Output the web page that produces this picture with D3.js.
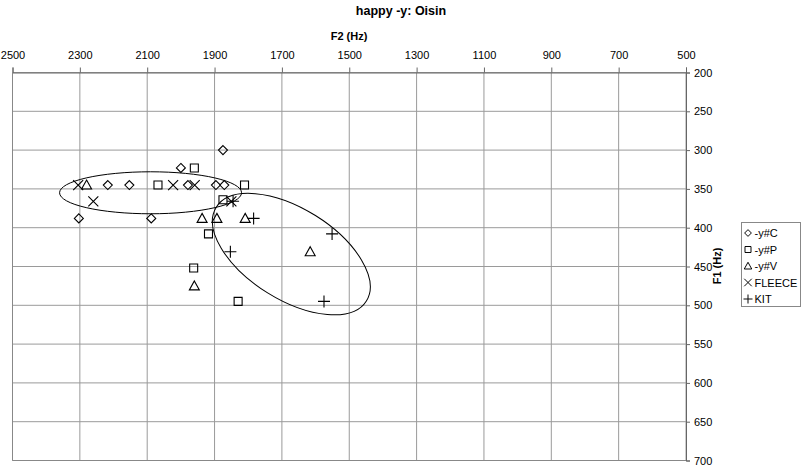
<!DOCTYPE html>
<html>
<head>
<meta charset="utf-8">
<script src="https://cdn.jsdelivr.net/npm/d3@7"></script>
<style>
  body { margin: 0; background: #fff; }
  svg { display: block; }
  text { font-family: "Liberation Sans", Arial, sans-serif; fill: #000; }
</style>
</head>
<body>
<svg id="chart" width="802" height="468"></svg>
<script>
// ---- data ----
const titleText = "happy -y: Oisin";
const xLabel = "F2 (Hz)";
const yLabel = "F1 (Hz)";
const xTicks = [2500, 2300, 2100, 1900, 1700, 1500, 1300, 1100, 900, 700, 500];
const yTicks = [200, 250, 300, 350, 400, 450, 500, 550, 600, 650, 700];
const seriesNames = ["-y#C", "-y#P", "-y#V", "FLEECE", "KIT"];
const seriesSymbols = ["diamond", "square", "triangle", "cross", "plus"];
// [F2, F1]
const yC = [[1875, 300], [2000, 323], [2217, 345], [2153, 345], [1979, 345], [1896, 345], [1871, 345], [2303, 388], [2088, 388]];
const yP = [[1960, 323], [2068, 345], [1811, 345], [1875, 364], [1918, 408], [1962, 452], [1830, 495]];
const yV = [[2280, 345], [1937, 388], [1893, 388], [1809, 388], [1616, 431], [1960, 475]];
const fleece = [[2305, 345], [2023, 345], [1959, 345], [2260, 366], [1850, 366]];
const kit = [[1845, 366], [1784, 388], [1551, 408], [1853, 431], [1575, 495]];
// ellipse annotations: centre in Hz
const ellipseCentres = [[2090, 355], [1672, 434]];

(function () {
// ---- layout ----
const svg = d3.select("#chart");
const pL = 12.5, pR = 686, pT = 72.5, pB = 460.5;
const x = d3.scaleLinear().domain([2500, 500]).range([pL, pR]);
const y = d3.scaleLinear().domain([200, 700]).range([pT, pB]);

// grid
const g = svg.append("g");
g.selectAll("line.vg").data(xTicks).join("line")
  .attr("x1", d => x(d)).attr("x2", d => x(d))
  .attr("y1", pT).attr("y2", pB)
  .attr("stroke", "#9a9a9a").attr("stroke-width", 1);
g.selectAll("line.hg").data(yTicks).join("line")
  .attr("x1", pL).attr("x2", pR)
  .attr("y1", d => y(d)).attr("y2", d => y(d))
  .attr("stroke", "#9a9a9a").attr("stroke-width", 1);

// axes
const xAxis = d3.axisTop(x).tickValues(xTicks).tickFormat(d3.format("d")).tickSize(5).tickPadding(9);
const xa = svg.append("g").attr("transform", `translate(0,${pT})`).call(xAxis);
xa.select(".domain").attr("stroke", "#666");
xa.selectAll(".tick line").attr("stroke", "#666");
xa.selectAll("text").attr("font-size", 11).attr("font-family", "Liberation Sans, Arial, sans-serif").attr("fill", "#000");

const yAxis = d3.axisRight(y).tickValues(yTicks).tickFormat(d3.format("d")).tickSize(4).tickPadding(4);
const ya = svg.append("g").attr("transform", `translate(${pR},0)`).call(yAxis);
ya.select(".domain").attr("stroke", "#666");
ya.selectAll(".tick line").attr("stroke", "#666");
ya.selectAll("text").attr("font-size", 11).attr("font-family", "Liberation Sans, Arial, sans-serif").attr("fill", "#000");

// left and bottom borders
svg.append("line").attr("x1", pL).attr("x2", pL).attr("y1", pT).attr("y2", pB).attr("stroke", "#888");
svg.append("line").attr("x1", pL).attr("x2", pR).attr("y1", pB).attr("y2", pB).attr("stroke", "#888");

// titles
svg.append("text").attr("x", 401).attr("y", 15).attr("text-anchor", "middle")
  .attr("font-size", 12.5).attr("font-weight", "bold").text(titleText);
svg.append("text").attr("x", 349).attr("y", 40).attr("text-anchor", "middle")
  .attr("font-size", 11).attr("font-weight", "bold").text(xLabel);
svg.append("text").attr("transform", "translate(721,266) rotate(-90)").attr("text-anchor", "middle")
  .attr("font-size", 11).attr("font-weight", "bold").text(yLabel);

// ellipses
const e1 = ellipseCentres[0], e2 = ellipseCentres[1];
svg.append("ellipse").attr("cx", x(e1[0])).attr("cy", y(e1[1])).attr("rx", 91).attr("ry", 21)
  .attr("fill", "none").attr("stroke", "#000").attr("stroke-width", 1);
svg.append("ellipse").attr("cx", 0).attr("cy", 0).attr("rx", 88.5).attr("ry", 45.5)
  .attr("transform", `translate(${x(e2[0])},${y(e2[1])}) rotate(32)`)
  .attr("fill", "none").attr("stroke", "#000").attr("stroke-width", 1);

// symbols
function symbolPath(type) {
  switch (type) {
    case "diamond": return "M0,-4.5L4.5,0L0,4.5L-4.5,0Z";
    case "square": return "M-4,-4H4V4H-4Z";
    case "triangle": return "M0,-5L5,4H-5Z";
    case "cross": return "M-5,-5L5,5M5,-5L-5,5";
    case "plus": return "M-6,0H6M0,-6V6";
  }
}
const allSeries = [yC, yP, yV, fleece, kit];
allSeries.forEach((pts, i) => {
  svg.append("g").selectAll("path").data(pts).join("path")
    .attr("d", symbolPath(seriesSymbols[i]))
    .attr("transform", d => `translate(${x(d[0])},${y(d[1])})`)
    .attr("fill", "none").attr("stroke", "#000").attr("stroke-width", 1.1);
});

// legend
const lg = svg.append("g");
lg.append("rect").attr("x", 741.5).attr("y", 222.5).attr("width", 59).attr("height", 84)
  .attr("fill", "#fff").attr("stroke", "#888");
seriesNames.forEach((name, i) => {
  const cy = 233 + i * 16.5;
  lg.append("path").attr("d", symbolPath(seriesSymbols[i]))
    .attr("transform", `translate(748,${cy}) scale(0.75)`)
    .attr("fill", "none").attr("stroke", "#000").attr("stroke-width", 1.3);
  lg.append("text").attr("x", 754.5).attr("y", cy + 4).attr("font-size", 11).text(name);
});
})();
</script>
</body>
</html>
